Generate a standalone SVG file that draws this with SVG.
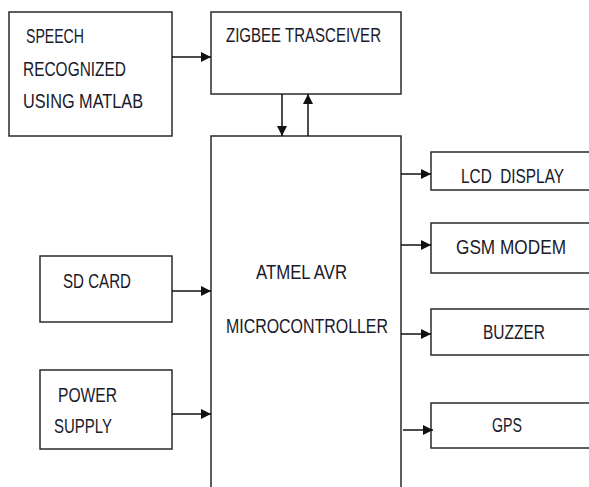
<svg xmlns="http://www.w3.org/2000/svg" width="589" height="487" viewBox="0 0 589 487">
<defs>
<marker id="ah" viewBox="0 0 10 10" refX="10" refY="5" markerWidth="10" markerHeight="10" markerUnits="userSpaceOnUse" orient="auto">
<path d="M0,0 L10,5 L0,10 z" fill="#111"/>
</marker>
</defs>
<style>
.box{fill:#fff;stroke:#2a2a2a;stroke-width:1.5}
.lbl{font-family:"Liberation Sans",Arial,sans-serif;font-size:19.5px;fill:#1a1a2a;white-space:pre}
.con{stroke:#111;stroke-width:1.5;fill:none}
</style>
<rect width="589" height="487" fill="#fff"/>
<g id="speech">
<rect class="box" x="9" y="12" width="163" height="124"/>
<text class="lbl" x="26" y="43" textLength="58" lengthAdjust="spacingAndGlyphs">SPEECH</text>
<text class="lbl" x="23" y="76" textLength="103" lengthAdjust="spacingAndGlyphs">RECOGNIZED</text>
<text class="lbl" x="23" y="108" textLength="120" lengthAdjust="spacingAndGlyphs">USING MATLAB</text>
</g>
<g id="zigbee">
<rect class="box" x="211" y="12" width="190" height="82"/>
<text class="lbl" x="226" y="41.5" textLength="155" lengthAdjust="spacingAndGlyphs">ZIGBEE TRASCEIVER</text>
</g>
<g id="mcu">
<rect class="box" x="211" y="136" width="190" height="360"/>
<text class="lbl" x="256" y="279" textLength="91" lengthAdjust="spacingAndGlyphs">ATMEL AVR</text>
<text class="lbl" x="226" y="333" textLength="162" lengthAdjust="spacingAndGlyphs">MICROCONTROLLER</text>
</g>
<g id="sdcard">
<rect class="box" x="40" y="256" width="132" height="66"/>
<text class="lbl" x="63" y="288" textLength="68" lengthAdjust="spacingAndGlyphs">SD CARD</text>
</g>
<g id="power">
<rect class="box" x="40" y="370" width="132" height="79"/>
<text class="lbl" x="58" y="402" textLength="59" lengthAdjust="spacingAndGlyphs">POWER</text>
<text class="lbl" x="54" y="433" textLength="58" lengthAdjust="spacingAndGlyphs">SUPPLY</text>
</g>
<g id="lcd">
<rect class="box" x="431" y="152" width="159" height="38"/>
<text class="lbl" x="461" y="183" textLength="103" lengthAdjust="spacingAndGlyphs" xml:space="preserve">LCD  DISPLAY</text>
</g>
<g id="gsm">
<rect class="box" x="431" y="223" width="159" height="50"/>
<text class="lbl" x="456" y="254" textLength="110" lengthAdjust="spacingAndGlyphs">GSM MODEM</text>
</g>
<g id="buzzer">
<rect class="box" x="431" y="309" width="159" height="46"/>
<text class="lbl" x="483" y="339" textLength="62" lengthAdjust="spacingAndGlyphs">BUZZER</text>
</g>
<g id="gps">
<rect class="box" x="431" y="403" width="159" height="45"/>
<text class="lbl" x="492" y="432" textLength="30" lengthAdjust="spacingAndGlyphs">GPS</text>
</g>
<g id="connectors">
<line class="con" x1="172" y1="57" x2="211" y2="57" marker-end="url(#ah)"/>
<line class="con" x1="282" y1="94" x2="282" y2="136" marker-end="url(#ah)"/>
<line class="con" x1="308" y1="136" x2="308" y2="94" marker-end="url(#ah)"/>
<line class="con" x1="172" y1="291" x2="211" y2="291" marker-end="url(#ah)"/>
<line class="con" x1="172" y1="414" x2="211" y2="414" marker-end="url(#ah)"/>
<line class="con" x1="401" y1="174" x2="431" y2="174" marker-end="url(#ah)"/>
<line class="con" x1="401" y1="245" x2="431" y2="245" marker-end="url(#ah)"/>
<line class="con" x1="401" y1="334" x2="431" y2="334" marker-end="url(#ah)"/>
<line class="con" x1="403" y1="430" x2="433" y2="430" marker-end="url(#ah)"/>
</g>
</svg>
